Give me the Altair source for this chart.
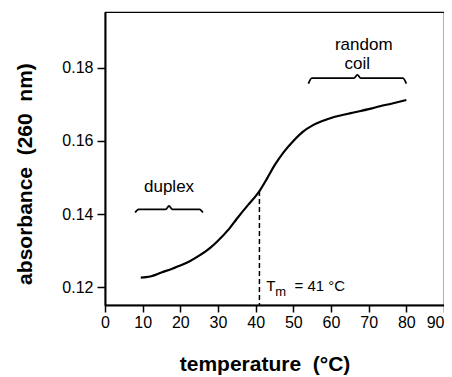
import altair as alt
import pandas as pd

# ---- data ----
temperature = [9.5, 12, 15, 18, 20, 22.5, 25, 28, 30, 33, 35, 38, 40, 41, 43, 45,
               47.5, 50, 52.5, 55, 57.5, 60, 63, 66, 70, 73, 76, 80]
absorbance = [0.1226, 0.1229, 0.1240, 0.1251, 0.1259, 0.1271, 0.1286, 0.1308,
              0.1327, 0.1360, 0.1387, 0.1425, 0.1449, 0.1463, 0.1497, 0.1533,
              0.1570, 0.1600, 0.1625, 0.1642, 0.1654, 0.1663, 0.1671, 0.1678,
              0.1687, 0.1695, 0.1702, 0.1712]

x_ticks = [0, 10, 20, 30, 40, 50, 60, 70, 80, 90]
y_ticks = [0.12, 0.14, 0.16, 0.18]
x_domain = [0, 90]
y_domain = [0.1151, 0.1953]

tm_value = 41
tm_absorbance = 0.1463

# braces: (start, end, level, end depth, tip height) in data units
brace_defs = [
    (8, 26, 0.1413, 0.0009, 0.0009),
    (54, 80, 0.1772, 0.0015, 0.0009),
]

labels = ["duplex", "random", "coil"]
label_x = [17, 68.7, 67]
label_y = [0.1475, 0.1864, 0.1812]

FONT = "Liberation Sans"

curve_df = pd.DataFrame({"t": temperature, "a": absorbance,
                         "o": list(range(len(temperature)))})

rows = []
for i, (x0, x1, lvl, de, dt) in enumerate(brace_defs):
    xm = (x0 + x1) / 2
    w = 0.9
    pts = [(x0, lvl - de), (x0 + w, lvl), (xm - w, lvl), (xm, lvl + dt),
           (xm + w, lvl), (x1 - w, lvl), (x1, lvl - de)]
    for j, (px, py) in enumerate(pts):
        rows.append({"b": i, "o": j, "t": px, "a": py})
brace_df = pd.DataFrame(rows)

xs = alt.Scale(domain=x_domain, nice=False, zero=False)
ys = alt.Scale(domain=y_domain, nice=False, zero=False)

x_axis = alt.Axis(
    values=x_ticks, title="temperature\u00a0\u00a0(°C)", format="d",
    titleX=159.5, titleY=65, titleBaseline="alphabetic", titleAlign="center",
    tickSize=7, labelPadding=2, labelOverlap=False, labelFlush=False,
    labelAlign={"condition": {"test": "datum.value == 90", "value": "right"},
                "value": "center"})
y_axis = alt.Axis(
    values=y_ticks, title="absorbance\u00a0\u00a0(260\u00a0\u00a0nm)", format=".2f",
    titleX=-80, titleY=161.5, titleAngle=-90, titleBaseline="middle",
    titleAlign="center", tickSize=8, labelPadding=4, labelOverlap=False,
    labelFlush=False)


def X():
    return alt.X("t:Q", scale=xs, axis=x_axis)


def Y():
    return alt.Y("a:Q", scale=ys, axis=y_axis)


curve = alt.Chart(curve_df).mark_line(
    color="black", strokeWidth=2.2, interpolate="monotone"
).encode(x=X(), y=Y(), order="o:Q")

braces = alt.Chart(brace_df).mark_line(
    color="black", strokeWidth=1.8, interpolate="monotone"
).encode(x=X(), y=Y(), detail="b:N", order="o:Q")

tm_df = pd.DataFrame({"t": [tm_value], "a": [tm_absorbance]})
tm_rule = alt.Chart(tm_df).mark_rule(
    color="black", strokeWidth=1.5, strokeDash=[5, 3]
).encode(x=X(), y=Y(), y2=alt.value(293))

lab_df = pd.DataFrame({"t": label_x, "a": label_y, "s": labels})
lab_text = alt.Chart(lab_df).mark_text(
    font=FONT, fontSize=17, color="black", baseline="middle", align="center"
).encode(x=X(), y=Y(), text="s:N")

tm_parts = ["T", "m", "=\u00a041\u00a0°C"]
tm_x = [42.8, 45.2, 50.3]
tm_y = [0.1203, 0.1187, 0.1203]
tm_size = [15, 13, 15]
tm_text_df = pd.DataFrame({"t": tm_x, "a": tm_y, "s": tm_parts, "f": tm_size})
tm_text = alt.Chart(tm_text_df).mark_text(
    font=FONT, color="black", baseline="middle", align="left"
).encode(x=X(), y=Y(), text="s:N",
         size=alt.Size("f:Q", scale=None, legend=None))

chart = alt.layer(curve, braces, tm_rule, lab_text, tm_text).properties(
    width=339, height=293,
    padding={"left": 97, "top": 4, "right": 0, "bottom": 72},
    autosize=alt.AutoSizeParams(type="none"),
).configure_view(
    stroke="black", strokeWidth=1.2
).configure_axis(
    grid=False, domainColor="black", domainWidth=2, tickColor="black",
    tickWidth=1.5, labelFont=FONT, labelFontSize=16, labelColor="black",
    titleFont=FONT, titleFontSize=21, titleFontWeight="bold", titleColor="black",
)

chart.save("out.html", embed_options={"renderer": "svg", "actions": False})
